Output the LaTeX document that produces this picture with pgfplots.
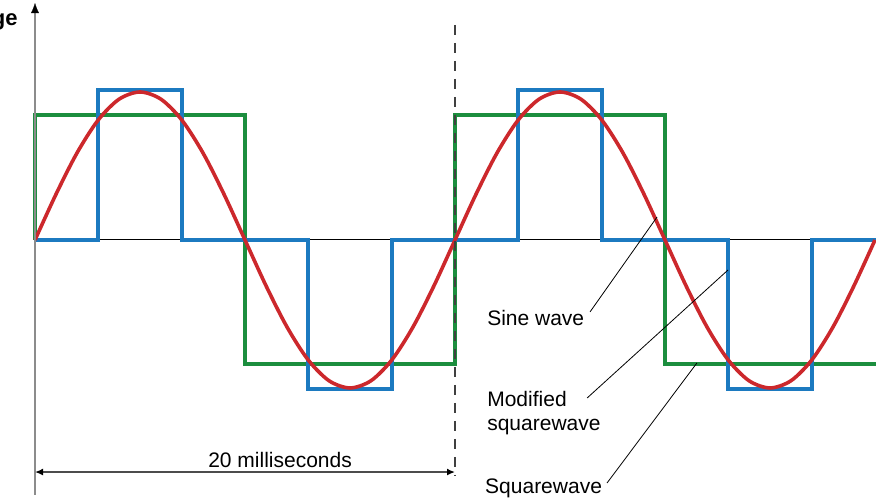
\documentclass[border=0pt]{standalone}
\usepackage{pgfplots}
\pgfplotsset{compat=1.18}
\usepackage{fontspec}
\setmainfont{Liberation Sans}
\usetikzlibrary{arrows.meta}

\definecolor{sinered}{RGB}{204,40,44}
\definecolor{modblue}{RGB}{28,122,192}
\definecolor{sqgreen}{RGB}{28,142,62}

\begin{document}
\begin{tikzpicture}
\begin{axis}[
    scale only axis,
    width=438pt, height=250pt,
    xmin=-1.6667, xmax=40.0476,
    ymin=-1.7568, ymax=1.6216,
    hide axis,
    clip=false,
    font=\fontsize{10.5}{12}\selectfont,
    ]
% zero line
\addplot[black, line width=0.5pt] coordinates {(0,0)(40.05,0)};
% squarewave
\addplot[sqgreen, line width=1.8pt, line join=miter] coordinates {
(0,0)(0,0.845)(10,0.845)(10,-0.84)(20,-0.84)(20,0.845)(30,0.845)(30,-0.84)(40.1,-0.84)
};
% modified squarewave
\addplot[modblue, line width=1.8pt, line join=miter] coordinates {
(0,0)(3,0)(3,1.015)(7,1.015)(7,0)(13,0)(13,-1.005)(17,-1.005)(17,0)
(23,0)(23,1.015)(27,1.015)(27,0)(33,0)(33,-1.005)(37,-1.005)(37,0)(40.1,0)
};
% sine wave
\addplot[sinered, line width=1.8pt, smooth] coordinates {
(0,0)(1,0.309)(2,0.588)(3,0.809)(4,0.951)(5,1)(6,0.951)(7,0.809)(8,0.588)(9,0.309)
(10,0)(11,-0.309)(12,-0.588)(13,-0.809)(14,-0.951)(15,-1)(16,-0.951)(17,-0.809)(18,-0.588)(19,-0.309)
(20,0)(21,0.309)(22,0.588)(23,0.809)(24,0.951)(25,1)(26,0.951)(27,0.809)(28,0.588)(29,0.309)
(30,0)(31,-0.309)(32,-0.588)(33,-0.809)(34,-0.951)(35,-1)(36,-0.951)(37,-0.809)(38,-0.588)(39,-0.309)
(40,0)
};
% vertical axis
\draw[black!45, line width=1pt] (axis cs:0,-1.723) -- (axis cs:0,1.56);
\draw[black!45, line width=0.1pt, -{Latex[length=5pt,width=4pt,black]}] (axis cs:0,1.5) -- (axis cs:0,1.601);
\node[anchor=east, inner sep=0pt, font=\bfseries\fontsize{11}{12}\selectfont] at (axis cs:-0.81,1.486) {Voltage};
% period marker
\draw[black!75, line width=0.7pt, dash pattern=on 5pt off 4pt] (axis cs:20,1.453) -- (axis cs:20,-1.588);
\draw[black!70, line width=0.75pt, {Latex[length=4pt,width=3.5pt,black]}-{Latex[length=4pt,width=3.5pt,black]}] (axis cs:0,-1.568) -- (axis cs:20,-1.568);
\node at (axis cs:11.67,-1.486) {20 milliseconds};
% labels and leaders
\node[anchor=west, inner sep=0pt] at (axis cs:21.52,-0.527) {Sine wave};
\node[anchor=west, align=left, inner sep=0pt] at (axis cs:21.52,-1.169) {Modified\\squarewave};
\node[anchor=west, inner sep=0pt] at (axis cs:21.42,-1.676) {Squarewave};
\draw[black, line width=0.4pt] (axis cs:26.43,-0.486) -- (axis cs:29.62,0.155);
\draw[black, line width=0.4pt] (axis cs:26.29,-1.068) -- (axis cs:33.0,-0.203);
\draw[black, line width=0.4pt] (axis cs:27.24,-1.642) -- (axis cs:31.52,-0.831);
\end{axis}
\pgfresetboundingbox
\path (current axis.south west) rectangle (current axis.north east);
\end{tikzpicture}
\end{document}
